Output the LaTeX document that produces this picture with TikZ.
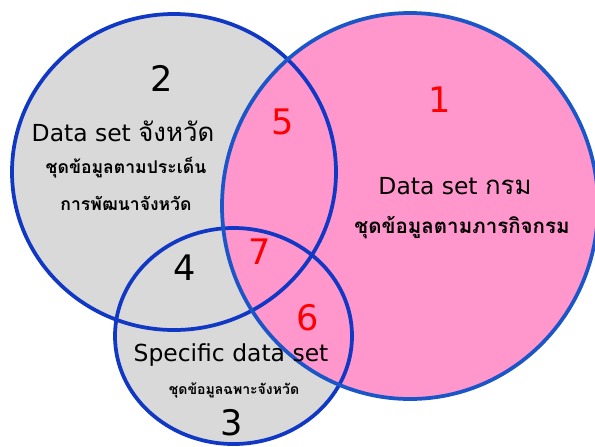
\documentclass[tikz,border=0pt]{standalone}
\usepackage{fontspec}
\setmainfont{DejaVu Sans}
\newfontfamily\thaifont[Script=Thai]{Loma}
\usetikzlibrary{shapes.geometric,positioning}
\definecolor{ringblue}{RGB}{16,56,196}
\definecolor{ringlight}{RGB}{26,86,200}
\definecolor{setpink}{RGB}{255,150,204}
\definecolor{setgrey}{RGB}{217,217,217}
\definecolor{numred}{RGB}{255,0,0}
\tikzset{
  ring/.style={draw=ringblue, line width=3.2pt},
  bignum/.style={font=\fontsize{30}{32}\selectfont, inner sep=0pt},
  rednum/.style={bignum, text=numred},
  settitle/.style={font=\fontsize{20}{22}\selectfont, inner sep=0pt},
  setsub/.style={font=\thaifont\bfseries\fontsize{15}{17}\selectfont, inner sep=0pt},
}

\begin{document}
\begin{tikzpicture}[x=0.03cm,y=-0.03cm]
  \useasboundingbox (0,0) rectangle (595,446);
  % centres of the three sets
  \coordinate (prov) at (174,172);
  \coordinate (spec) at (233.5,336);
  \coordinate (dept) at (410,206);

  \fill[setgrey] (prov) ellipse [x radius=4.86cm, y radius=4.74cm];
  \fill[setgrey] (spec) ellipse [x radius=3.555cm, y radius=3.24cm];
  \fill[setpink] (dept) ellipse [x radius=5.64cm, y radius=5.79cm];

  \draw[ring] (prov) ellipse [x radius=4.86cm, y radius=4.74cm];
  \draw[ring] (spec) ellipse [x radius=3.555cm, y radius=3.24cm];
  \draw[ring, draw=ringlight] (dept) ellipse [x radius=5.64cm, y radius=5.79cm];

  % province set
  \node[bignum] (num2) at (162,78) {2};
  \node[settitle] (prov title) at (123,131) {Data set {\thaifont\fontsize{22}{24}\selectfont จังหวัด}};
  \node[setsub] (prov sub1) at (126,168) {ชุดข้อมูลตามประเด็น};
  \node[setsub] (prov sub2) at (126,203) {การพัฒนาจังหวัด};

  % department set
  \node[rednum] (num1) at (440,100) {1};
  \node[settitle] (dept title) at (455,186) {Data set {\thaifont\fontsize{22}{24}\selectfont กรม}};
  \node[setsub, font=\thaifont\bfseries\fontsize{17.5}{19}\selectfont] (dept sub) at (462,228) {ชุดข้อมูลตามภารกิจกรม};

  % specific set
  \node[settitle] (spec title) at (231,355) {Specific data set};
  \node[setsub, font=\thaifont\bfseries\fontsize{12}{14}\selectfont] (spec sub) at (234,390) {ชุดข้อมูลฉพาะจังหวัด};
  \node[bignum] (num3) at (232,423) {3};

  % overlaps
  \node[rednum] (num5) at (283,122) {5};
  \node[rednum] (num7) at (260,252) {7};
  \node[rednum] (num6) at (308,318) {6};
  \node[bignum] (num4) at (185,268) {4};
\end{tikzpicture}
\end{document}
